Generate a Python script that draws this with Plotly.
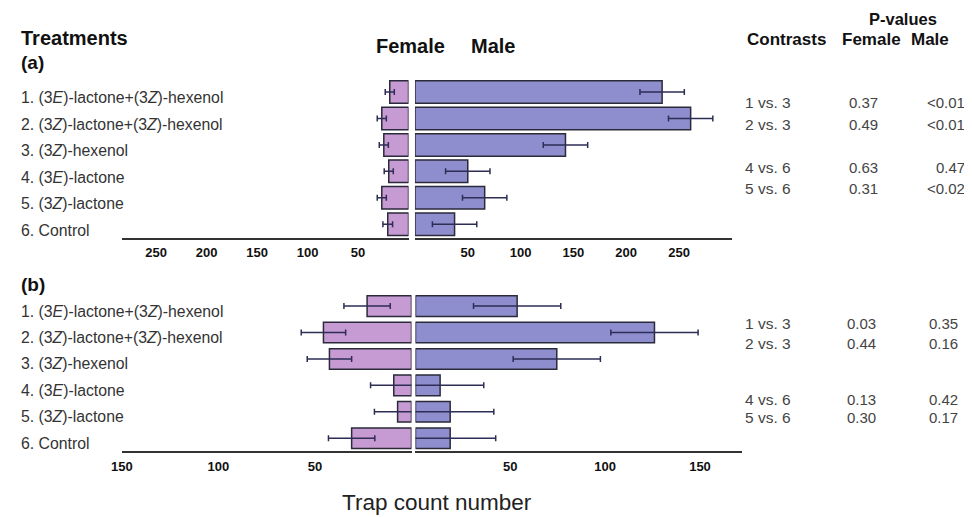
import plotly.graph_objects as go

W, H = 972, 517

treatments = [
    "1. (3<i>E</i>)-lactone+(3<i>Z</i>)-hexenol",
    "2. (3<i>Z</i>)-lactone+(3<i>Z</i>)-hexenol",
    "3. (3<i>Z</i>)-hexenol",
    "4. (3<i>E</i>)-lactone",
    "5. (3<i>Z</i>)-lactone",
    "6. Control",
]

# Panel (a)
female_a = [18.6, 26.5, 24.5, 19.6, 26.5, 20.6]
female_a_se = [4.5, 4.5, 4.5, 4.5, 4.5, 4.8]
male_a = [234, 261, 142.5, 50, 66, 37.5]
male_a_se = [21, 21, 21, 21, 21, 21]

# Panel (b)
female_b = [23, 45.6, 42.5, 9.2, 7.2, 31]
female_b_se = [12, 11.5, 11.5, 12, 12, 12]
male_b = [53.6, 126, 74.5, 13, 18.3, 18.3]
male_b_se = [23, 23, 23, 23, 23, 24]

ticks_a = [50, 100, 150, 200, 250]
ticks_b = [50, 100, 150]

contrasts = ["1 vs. 3", "2 vs. 3", "4 vs. 6", "5 vs. 6"]
p_female_a = ["0.37", "0.49", "0.63", "0.31"]
p_male_a = ["<0.01", "<0.01", "0.47", "<0.02"]
p_female_b = ["0.03", "0.44", "0.13", "0.30"]
p_male_b = ["0.35", "0.16", "0.42", "0.17"]

FEMALE_COLOR = "#C69AD2"
MALE_COLOR = "#8E8ECF"
EDGE = "#2a2a3a"
ERR = "#2d2d55"
FONT = "Liberation Sans, Arial, sans-serif"

# the page puts the figure 8 px in from the top-left corner
OFF = 8


def px_x(p):
    return (p - OFF) / W


def px_y(p):
    return 1 - (p - OFF) / H


fig = go.Figure()


def add_bar(x, se, xa, ya, color, width):
    fig.add_trace(go.Bar(
        x=x, y=treatments, orientation="h", xaxis=xa, yaxis=ya,
        marker=dict(color=color, line=dict(color=EDGE, width=1.5)),
        width=width,
        error_x=dict(type="data", array=se, color=ERR, thickness=1.5, width=3),
        showlegend=False, hoverinfo="x+y",
    ))


add_bar(female_a, female_a_se, "x", "y", FEMALE_COLOR, 0.85)
add_bar(male_a, male_a_se, "x2", "y", MALE_COLOR, 0.85)
add_bar(female_b, female_b_se, "x3", "y2", FEMALE_COLOR, 0.78)
add_bar(male_b, male_b_se, "x4", "y2", MALE_COLOR, 0.78)

xaxis_common = dict(
    showgrid=False, zeroline=False, showline=True, linecolor="#333", linewidth=1.5,
    tickmode="array", ticks="", ticklabelstandoff=2,
    tickfont=dict(family=FONT, size=13, color="#111", weight="bold"),
    fixedrange=True,
)
yaxis_common = dict(
    showgrid=False, zeroline=False, showline=False, showticklabels=False,
    type="category", categoryorder="array", categoryarray=treatments,
    autorange="reversed", fixedrange=True,
)

fig.update_layout(
    width=W, height=H,
    margin=dict(l=0, r=0, t=0, b=0),
    paper_bgcolor="white", plot_bgcolor="rgba(0,0,0,0)",
    bargap=0.15,
    xaxis=dict(xaxis_common, domain=[px_x(112), px_x(402)], range=[284, 0],
               tickvals=ticks_a, anchor="y"),
    xaxis2=dict(xaxis_common, domain=[px_x(408.5), px_x(729)], range=[0, 300],
                tickvals=ticks_a, anchor="y"),
    xaxis3=dict(xaxis_common, domain=[px_x(112), px_x(405)], range=[150, 0],
                tickvals=ticks_b, anchor="y2"),
    xaxis4=dict(xaxis_common, domain=[px_x(409), px_x(739)], range=[0, 172],
                tickvals=ticks_b, anchor="y2"),
    yaxis=dict(yaxis_common, domain=[px_y(237.5), px_y(75.5)], anchor="x"),
    yaxis2=dict(yaxis_common, domain=[px_y(451.4), px_y(290.6)], anchor="x3"),
)

ann = []


def text(x, y, s, size=13, bold=False, color="#222", xanchor="left", yanchor="middle"):
    ann.append(dict(
        x=px_x(x), y=px_y(y), xref="paper", yref="paper", text=s, showarrow=False,
        xanchor=xanchor, yanchor=yanchor,
        font=dict(family=FONT, size=size, color=color, weight="bold" if bold else "normal"),
    ))


# Treatment labels, placed on the category axes
for yref, shift in (("y", -6), ("y2", -5)):
    for t in treatments:
        ann.append(dict(
            x=px_x(8), y=t, xref="paper", yref=yref, text=t, showarrow=False,
            xanchor="left", yanchor="middle", yshift=shift,
            font=dict(family=FONT, size=15.8, color="#333"),
        ))

text(8, 38, "Treatments", size=20, bold=True, color="#111")
text(8, 62, "(a)", size=19, bold=True, color="#111")
text(8, 284, "(b)", size=19, bold=True, color="#111")
text(367, 46, "Female", size=20, bold=True, color="#111")
text(463, 46, "Male", size=20, bold=True, color="#111")
text(902, 8, "P-values", size=16.5, bold=True, color="#111", xanchor="center", yanchor="top")
text(742, 39, "Contrasts", size=17, bold=True, color="#111")
text(838, 39, "Female", size=17, bold=True, color="#111")
text(908, 39, "Male", size=17, bold=True, color="#111")
text(431, 502, "Trap count number", size=22.5, color="#222", xanchor="center")

rows_a = [102, 124, 167, 188]
rows_b = [323, 343, 399, 417]
for i, c in enumerate(contrasts):
    text(740, rows_a[i], c, size=15.5, color="#444")
    text(862, rows_a[i], p_female_a[i], size=15, color="#444", xanchor="center")
    text(967, rows_a[i], p_male_a[i], size=15, color="#444", xanchor="right")
    text(740, rows_b[i], c, size=15.5, color="#444")
    text(860, rows_b[i], p_female_b[i], size=15, color="#444", xanchor="center")
    text(960, rows_b[i], p_male_b[i], size=15, color="#444", xanchor="right")

fig.update_layout(annotations=ann)

fig.write_html("out.html")
